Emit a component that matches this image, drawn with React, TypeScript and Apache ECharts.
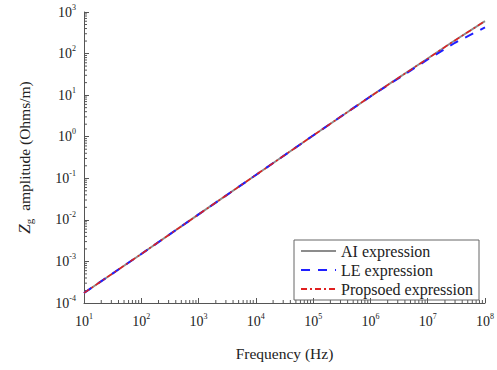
import React, { useEffect, useRef } from "react";
import * as echarts from "echarts";

const freq = [1e1, 1e2, 1e3, 1e4, 1e5, 1e6, 1e7, 3e7, 1e8];
const aiValues = [1.74e-4, 1.51e-3, 1.35e-2, 0.12, 1.07, 9.3, 76, 209, 603];
const leValues = [1.74e-4, 1.51e-3, 1.35e-2, 0.12, 1.07, 9.3, 72, 182, 427];
const proposedValues = [1.74e-4, 1.51e-3, 1.35e-2, 0.12, 1.07, 9.3, 76, 209, 603];
const seriesNames = ["AI expression", "LE expression", "Propsoed expression"];
const xDecades = [1e1, 1e2, 1e3, 1e4, 1e5, 1e6, 1e7];
const yDecades = [1e-4, 1e-3, 1e-2, 1e-1, 1e0, 1e1, 1e2];
const minorMultipliers = [2, 3, 4, 5, 6, 7, 8, 9];

const FONT = "Liberation Serif";
const TEXT = "#222";
const AXIS = "#555";

const supLabel = (v: number) => {
  const e = Math.round(Math.log10(v));
  return `{b|10}{s|${e}}`;
};

const richTick = {
  b: { fontFamily: FONT, fontSize: 14, color: TEXT },
  s: { fontFamily: FONT, fontSize: 8, color: TEXT, padding: [0, 0, 10, 0] },
};

export default function App() {
  const ref = useRef<HTMLDivElement>(null);
  useEffect(() => {
    const chart = echarts.init(ref.current!, null, { renderer: "svg" });
    const pair = (vals: number[]) => freq.map((f, i) => [f, vals[i]]);
    const xMinor: number[][] = [];
    xDecades.forEach((d) => minorMultipliers.forEach((m) => xMinor.push([d * m, 1e-4])));
    const yMinor: number[][] = [];
    yDecades.forEach((d) => minorMultipliers.forEach((m) => yMinor.push([10, d * m])));

    const tickSeries = (data: number[][], horizontal: boolean) => ({
      type: "custom",
      silent: true,
      clip: false,
      data,
      renderItem: (_p: any, api: any) => {
        const pt = api.coord([api.value(0), api.value(1)]);
        const shape = horizontal
          ? { x1: pt[0], y1: pt[1], x2: pt[0], y2: pt[1] - 3 }
          : { x1: pt[0], y1: pt[1], x2: pt[0] + 3, y2: pt[1] };
        return { type: "line", shape, style: { stroke: AXIS, lineWidth: 1 } };
      },
      z: 1,
    });

    chart.setOption({
      animation: false,
      grid: { left: 84, right: 11, top: 12, bottom: 67 },
      legend: {
        orient: "vertical",
        right: 18,
        top: 240,
        itemWidth: 35,
        itemHeight: 14,
        itemGap: 3,
        padding: [3, 6, 3, 6],
        borderColor: "#666",
        borderWidth: 1,
        borderRadius: 0,
        itemStyle: { opacity: 0 },
        textStyle: { fontFamily: FONT, fontSize: 16, color: TEXT },
        data: seriesNames,
      },
      xAxis: {
        type: "log",
        logBase: 10,
        min: 10,
        max: 1e8,
        name: "Frequency (Hz)",
        nameLocation: "middle",
        nameGap: 42,
        nameTextStyle: { fontFamily: FONT, fontSize: 15.5, color: TEXT },
        axisLine: { lineStyle: { color: AXIS } },
        axisTick: { inside: true, length: 5, lineStyle: { color: AXIS } },
        splitLine: { show: false },
        axisLabel: { formatter: supLabel, rich: richTick, margin: 9 },
      },
      yAxis: {
        type: "log",
        logBase: 10,
        min: 1e-4,
        max: 1e3,
        name: "{z|Z}{g|g} amplitude (Ohms/m)",
        nameLocation: "middle",
        nameGap: 50,
        nameTextStyle: {
          fontFamily: FONT,
          fontSize: 15.5,
          color: TEXT,
          rich: {
            z: { fontFamily: FONT, fontSize: 17, fontStyle: "italic", color: TEXT },
            g: { fontFamily: FONT, fontSize: 11, color: TEXT, padding: [9, 4, 0, 0] },
          },
        },
        axisLine: { lineStyle: { color: AXIS } },
        axisTick: { inside: true, length: 5, lineStyle: { color: AXIS } },
        splitLine: { show: false },
        axisLabel: { formatter: supLabel, rich: richTick, margin: 8 },
      },
      series: [
        {
          name: seriesNames[0],
          type: "line",
          data: pair(aiValues),
          symbol: "none",
          lineStyle: { color: "#8c8c8c", width: 2, type: "solid" },
          itemStyle: { color: "#8c8c8c" },
        },
        {
          name: seriesNames[1],
          type: "line",
          data: pair(leValues),
          symbol: "none",
          lineStyle: { color: "#1f1fff", width: 2, type: [9, 8] },
          itemStyle: { color: "#1f1fff" },
        },
        {
          name: seriesNames[2],
          type: "line",
          data: pair(proposedValues),
          symbol: "none",
          lineStyle: { color: "#e02020", width: 1.5, type: [6, 3, 2, 3] },
          itemStyle: { color: "#e02020" },
        },
        tickSeries(xMinor, true),
        tickSeries(yMinor, false),
      ],
    });
    return () => chart.dispose();
  }, []);
  return (
    <div
      ref={ref}
      style={{ position: "fixed", left: 0, top: 0, width: 497, height: 370, background: "#fff" }}
    />
  );
}
